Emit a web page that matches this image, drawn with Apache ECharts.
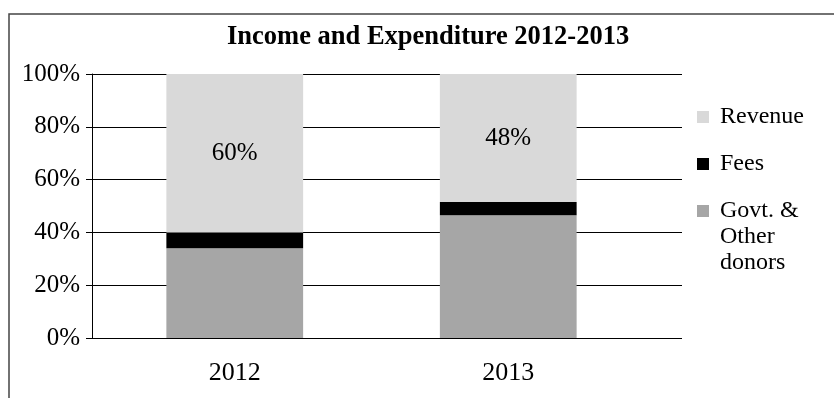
<!DOCTYPE html>
<html lang="en">
<head>
<meta charset="UTF-8">
<title>Income and Expenditure 2012-2013</title>
<script src="https://cdn.jsdelivr.net/npm/echarts@6/dist/echarts.min.js"></script>
<style>
body {margin: 0; padding: 0; background-color: white;}
#main {width: 834px; height: 398px;}
</style>
</head>
<body>
<div id="main"></div>
<script>
    var years = ['2012', '2013'];
    var govtDonors = [34, 46];
    var fees = [6, 5];
    var revenue = [60, 48];
    var yTicks = [0, 20, 40, 60, 80, 100];

    var serif = '"Liberation Serif", "Times New Roman", serif';

    // 100% stacked: share of each year's total
    function share(values, i) {
        var total = govtDonors[i] + fees[i] + revenue[i];
        return values[i] / total * 100;
    }
    function shares(values) {
        return years.map(function (y, i) { return share(values, i); });
    }

    var chart = echarts.init(document.getElementById('main'));

    chart.setOption({
        animation: false,
        backgroundColor: '#fff',
        title: {
            text: 'Income and Expenditure 2012-2013',
            left: 227,
            top: 24,
            padding: 0,
            textStyle: {fontFamily: serif, fontSize: 26.5, fontWeight: 'bold', color: '#000'}
        },
        graphic: [{
            type: 'rect',
            shape: {x: 9, y: 14, width: 1000, height: 1000},
            style: {fill: 'none', stroke: '#444', lineWidth: 1.5},
            silent: true
        }],
        legend: [{
            data: ['Revenue', 'Fees'],
            orient: 'vertical',
            left: 697,
            top: 104,
            padding: 0,
            itemGap: 21,
            itemWidth: 12,
            itemHeight: 12,
            icon: 'rect',
            textStyle: {fontFamily: serif, fontSize: 24, color: '#000', lineHeight: 26, padding: [0, 0, 0, 6]}
        }, {
            data: ['Govt. & Other donors'],
            orient: 'vertical',
            left: 697,
            top: 146,
            padding: 0,
            itemWidth: 12,
            itemHeight: 12,
            icon: 'rect',
            // two blank lines on top keep "Govt. &" level with the icon
            formatter: function () { return ' \n \nGovt. &\nOther\ndonors'; },
            textStyle: {fontFamily: serif, fontSize: 24, color: '#000', lineHeight: 26, padding: [0, 0, 0, 6]}
        }],
        grid: [
            {left: 92, right: 152, top: 74, bottom: 60},
            {left: 98, right: 189, top: 74, bottom: 60}
        ],
        xAxis: [{
            gridIndex: 0,
            type: 'category',
            data: years,
            show: false
        }, {
            gridIndex: 1,
            type: 'category',
            data: years,
            axisLine: {show: false},
            axisTick: {show: false},
            axisLabel: {fontFamily: serif, fontSize: 26, color: '#000', margin: 22}
        }],
        yAxis: [{
            gridIndex: 0,
            type: 'value',
            min: yTicks[0],
            max: yTicks[yTicks.length - 1],
            interval: 20,
            axisLine: {show: true, lineStyle: {color: '#000', width: 1}},
            axisTick: {show: true, length: 6, lineStyle: {color: '#000'}},
            splitLine: {show: true, lineStyle: {color: '#000', width: 1}},
            axisLabel: {
                fontFamily: serif, fontSize: 25, color: '#000', margin: 12,
                formatter: function (v) { return v + '%'; }
            }
        }, {
            gridIndex: 1,
            type: 'value',
            min: 0,
            max: 100,
            show: false
        }],
        series: [{
            name: 'Govt. & Other donors',
            type: 'bar',
            stack: 'total',
            xAxisIndex: 1,
            yAxisIndex: 1,
            barWidth: '50%',
            itemStyle: {color: '#a6a6a6'},
            data: shares(govtDonors)
        }, {
            name: 'Fees',
            type: 'bar',
            stack: 'total',
            xAxisIndex: 1,
            yAxisIndex: 1,
            barWidth: '50%',
            itemStyle: {color: '#000000'},
            data: shares(fees)
        }, {
            name: 'Revenue',
            type: 'bar',
            stack: 'total',
            xAxisIndex: 1,
            yAxisIndex: 1,
            barWidth: '50%',
            itemStyle: {color: '#d9d9d9'},
            label: {
                show: true,
                position: 'inside',
                fontFamily: serif,
                fontSize: 25,
                color: '#000',
                formatter: function (p) { return revenue[p.dataIndex] + '%'; }
            },
            data: shares(revenue)
        }]
    });
</script>
</body>
</html>
